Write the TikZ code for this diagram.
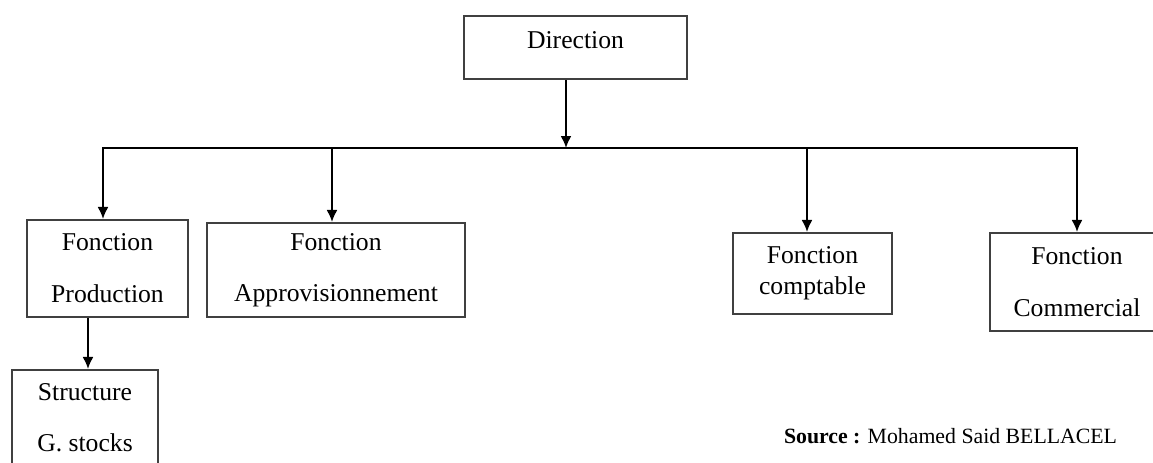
\documentclass[tikz,border=0pt]{standalone}
\usepackage{fontspec}
\setmainfont{Liberation Serif}
\usetikzlibrary{arrows.meta}
\begin{document}
\begin{tikzpicture}[
        x=0.02cm, y=-0.02cm,
        >={Latex[length=2.4mm,width=2.2mm]},
        unit/.style={draw=black!75, line width=1.2pt, align=center, inner sep=0pt,
            font=\fontsize{14.6}{16.6}\selectfont},
        link/.style={->, line width=1.1pt}
    ]
        \clip (0,0) rectangle (1153,463);
        \node[unit, minimum width=4.46cm, minimum height=1.26cm, text depth=0.3cm] (dir) at (575.5,47.5)
            {Direction};
        \node[unit, minimum width=3.22cm, minimum height=1.94cm] (prod) at (107.5,268.5)
            {Fonction\\[13pt]Production};
        \node[unit, minimum width=5.16cm, minimum height=1.88cm] (appro) at (336,270)
            {Fonction\\[12.5pt]Approvisionnement};
        \node[unit, minimum width=3.18cm, minimum height=1.62cm] (compta) at (812.5,273.5)
            {Fonction\\[1pt]comptable};
        \node[unit, minimum width=3.48cm, minimum height=1.96cm] (comm) at (1077,282)
            {Fonction\\[13pt]Commercial};
        \node[unit, minimum width=2.92cm, minimum height=1.92cm] (stock) at (85,418)
            {Structure\\[12.5pt]G. stocks};
        \node[font=\fontsize{12.4}{14}\selectfont] (src) at (950.5,436)
            {\textbf{Source :} Mohamed Said BELLACEL};
        \coordinate (bus) at (566,148);
        \draw[link] (dir.south -| bus) -- (bus);
        \draw[link] (bus) -| ([xshift=-0.09cm]prod.north);
        \draw[link] (bus) -| ([xshift=-0.08cm]appro.north);
        \draw[link] (bus) -| ([xshift=-0.11cm]compta.north);
        \draw[link] (bus) -| (comm);
        \draw[link] ([xshift=0.06cm]prod.south -| stock) -- ([xshift=0.06cm]stock.north);
    \end{tikzpicture}
\end{document}
